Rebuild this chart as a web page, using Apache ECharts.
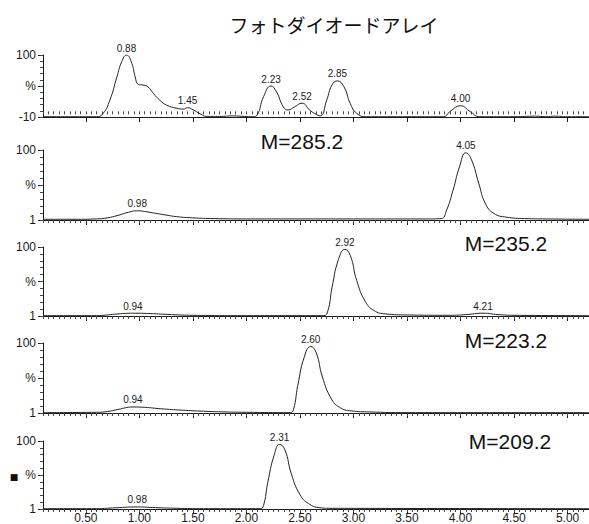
<!DOCTYPE html>
<html>
<head>
<meta charset="utf-8">
<script src="https://cdn.jsdelivr.net/npm/echarts@6/dist/echarts.min.js"></script>
<style>html,body{margin:0;padding:0;background:#fff}#c{width:589px;height:524px}</style>
</head>
<body>
<div id="c"></div>
<script>
// ---------------- DATA ----------------
const titleText = 'フォトダイオードアレイ';
const massLabels = ['', 'M=285.2', 'M=235.2', 'M=223.2', 'M=209.2'];
const xTickLabels = ['0.50','1.00','1.50','2.00','2.50','3.00','3.50','4.00','4.50','5.00'];
const yLabelsTop = ['-10', '%', '100'];
const yLabelsMass = ['1', '%', '100'];

// Panel 1: photodiode array trace (time, %)
const p1Time = [0.10,0.30,0.50,0.60,0.66,0.725,0.79,0.835,0.88,0.93,0.96,0.99,1.04,1.08,1.13,1.19,1.255,1.35,1.41,1.45,1.50,1.57,1.63,1.75,1.88,1.98,2.06,2.10,2.16,2.23,2.28,2.345,2.39,2.45,2.52,2.59,2.64,2.69,2.75,2.80,2.85,2.91,2.97,3.03,3.12,3.40,3.60,3.84,3.90,4.00,4.09,4.18,4.50,4.70,4.80,4.88,5.00,5.20];
const p1Val  = [-9.5,-9.5,-9.5,-9.5,-4,20,61,88,100,85,62,48,46.5,43.5,32,20,11,5.5,4,6.5,3,-4.5,-9,-9,-8,-9,-9.5,-6.5,26,45,35,8,2.5,8,14.5,2.5,-4,-8,20,47,54,44,14,-3.5,-9.5,-9.5,-9.5,-9.5,-0.5,10,-0.5,-9.5,-9.5,-8.5,-9.5,-8.5,-9.5,-9.5];
const p1Peaks = ['0.88','1.45','2.23','2.52','2.85','4.00'];

// Panel 2: M=285.2
const p2Time = [0.10,0.40,0.60,0.70,0.80,0.90,0.98,1.05,1.15,1.25,1.35,1.50,1.70,2.00,3.00,3.70,3.82,3.87,3.93,3.99,4.05,4.10,4.17,4.23,4.31,4.43,4.60,4.80,5.20];
const p2Val  = [2,2,2.5,4,7.5,12,14,13,10.5,8,5.7,4,3,2.5,2.5,2.5,3,15,43,76,96,87,53,25,10.5,5,3,2.5,2];
const p2Peaks = ['0.98','4.05'];

// Panel 3: M=235.2
const p3Time = [0.10,0.60,0.70,0.80,0.94,1.10,1.30,1.50,2.00,2.72,2.76,2.80,2.86,2.92,2.97,3.03,3.11,3.19,3.30,3.50,3.90,4.05,4.21,4.35,4.50,5.20];
const p3Val  = [1.5,1.5,2.5,4,5,4.5,3,2,1.5,1.5,8,42,82,96.5,88,52,22,9,4,2.5,2,3,5,3,2,1.5];
const p3Peaks = ['0.94','2.92','4.21'];

// Panel 4: M=223.2
const p4Time = [0.10,0.60,0.70,0.80,0.94,1.05,1.20,1.40,1.60,1.80,2.00,2.41,2.44,2.48,2.54,2.60,2.65,2.71,2.79,2.87,2.98,3.15,3.50,5.20];
const p4Val  = [1.5,2,3,6,9.5,9,7,5,3.5,2.5,2,1.5,6,40,80,95,87,52,22,9,4,2.5,1.5,1.5];
const p4Peaks = ['0.94','2.60'];

// Panel 5: M=209.2
const p5Time = [0.10,0.60,0.75,0.98,1.15,1.35,1.60,2.13,2.16,2.20,2.26,2.31,2.36,2.42,2.50,2.58,2.68,2.80,5.20];
const p5Val  = [1.5,1.5,2.5,4,3,2,1.5,1.5,6,40,80,95,87,52,22,9,3,2,1.5];
const p5Peaks = ['0.98','2.31'];

// ---------------- LAYOUT ----------------
const panels = [
  {t:p1Time, v:p1Val, peaks:p1Peaks, min:-10, max:100, ylab:yLabelsTop, top:55, h:62},
  {t:p2Time, v:p2Val, peaks:p2Peaks, min:1, max:100, ylab:yLabelsMass, top:150, h:70},
  {t:p3Time, v:p3Val, peaks:p3Peaks, min:1, max:100, ylab:yLabelsMass, top:247, h:69},
  {t:p4Time, v:p4Val, peaks:p4Peaks, min:1, max:100, ylab:yLabelsMass, top:343, h:70},
  {t:p5Time, v:p5Val, peaks:p5Peaks, min:1, max:100, ylab:yLabelsMass, top:441, h:70}
];
const XMIN = 0.1, XMAX = 5.2;
const majorX = xTickLabels.map(Number);
const minorX = [];
for (let k = 0; k <= 102; k++) minorX.push(+(XMIN + k * 0.05).toFixed(2));
const font = 'Liberation Sans';
const ink = '#1a1a1a';

const grid = [], xAxis = [], yAxis = [], series = [];
panels.forEach((p, i) => {
  grid.push({left:43, right:0, top:p.top, height:p.h});
  const mid = (p.min + p.max) / 2;
  const yMajor = [p.min, mid, p.max];
  const yMinor = [];
  for (let k = 0; k <= 10; k++) yMinor.push(p.min + (p.max - p.min) * k / 10);
  xAxis.push({
    type:'value', gridIndex:i, min:XMIN, max:XMAX, position:'bottom',
    axisLine:{show:true, onZero:false, lineStyle:{color:ink, width:1}},
    axisTick:{show:true, customValues:majorX, length:5, lineStyle:{color:ink}},
    axisLabel:{show:i === 4, customValues:majorX, margin:3, fontSize:12, fontFamily:font, color:ink,
      formatter:v => xTickLabels[majorX.indexOf(v)] ?? v.toFixed(2)},
    splitLine:{show:false}
  });
  xAxis.push({
    type:'value', gridIndex:i, min:XMIN, max:XMAX, position:'bottom',
    axisLine:{show:false},
    axisTick:{show:true, customValues:minorX, length:3, lineStyle:{color:'#444'}},
    axisLabel:{show:false, customValues:minorX},
    splitLine:{show:false}
  });
  yAxis.push({
    type:'value', gridIndex:i, min:p.min, max:p.max, position:'left',
    axisLine:{show:true, onZero:false, lineStyle:{color:ink, width:1}},
    axisTick:{show:true, customValues:yMajor, length:5, lineStyle:{color:ink}},
    axisLabel:{show:true, customValues:yMajor, margin:7, fontSize:12, fontFamily:font, color:ink,
      formatter:v => v === p.max ? p.ylab[2] : (v === p.min ? p.ylab[0] : p.ylab[1])},
    splitLine:{show:false}
  });
  yAxis.push({
    type:'value', gridIndex:i, min:p.min, max:p.max, position:'left',
    axisLine:{show:false},
    axisTick:{show:true, customValues:yMinor, length:3, lineStyle:{color:'#444'}},
    axisLabel:{show:false, customValues:yMinor},
    splitLine:{show:false}
  });
  const data = p.t.map((t, k) => {
    const item = {value:[t, p.v[k]]};
    const s = t.toFixed(2);
    if (p.peaks.includes(s) && Math.abs(t - Number(s)) < 1e-9) {
      item.label = {show:true, formatter:s, position:'top', distance:2,
        fontSize:10, fontFamily:font, color:ink};
    }
    return item;
  });
  series.push({
    type:'line', xAxisIndex:2 * i, yAxisIndex:2 * i, data,
    symbol:'circle', symbolSize:0, showSymbol:true, showAllSymbol:true,
    smooth:0.5,
    lineStyle:{color:'#222', width:1}, itemStyle:{color:'#222'},
    label:{show:false}, silent:true
  });
});

const graphic = [
  {type:'text', x:334, y:24, style:{text:titleText, font:'19px "Noto Sans CJK JP"', fill:'#111', align:'center', verticalAlign:'middle'}},
  {type:'text', x:302, y:141, style:{text:massLabels[1], font:'21px "Liberation Sans"', fill:'#111', align:'center', verticalAlign:'middle'}},
  {type:'text', x:506, y:243, style:{text:massLabels[2], font:'21px "Liberation Sans"', fill:'#111', align:'center', verticalAlign:'middle'}},
  {type:'text', x:506, y:340, style:{text:massLabels[3], font:'21px "Liberation Sans"', fill:'#111', align:'center', verticalAlign:'middle'}},
  {type:'text', x:510, y:441, style:{text:massLabels[4], font:'21px "Liberation Sans"', fill:'#111', align:'center', verticalAlign:'middle'}},
  {type:'text', x:14, y:477, style:{text:'■', font:'9px "DejaVu Sans"', fill:'#111', align:'center', verticalAlign:'middle'}}
];

const chart = echarts.init(document.getElementById('c'), null, {renderer:'svg'});
chart.setOption({
  backgroundColor:'#fff', animation:false,
  grid, xAxis, yAxis, series, graphic
});
</script>
</body>
</html>
